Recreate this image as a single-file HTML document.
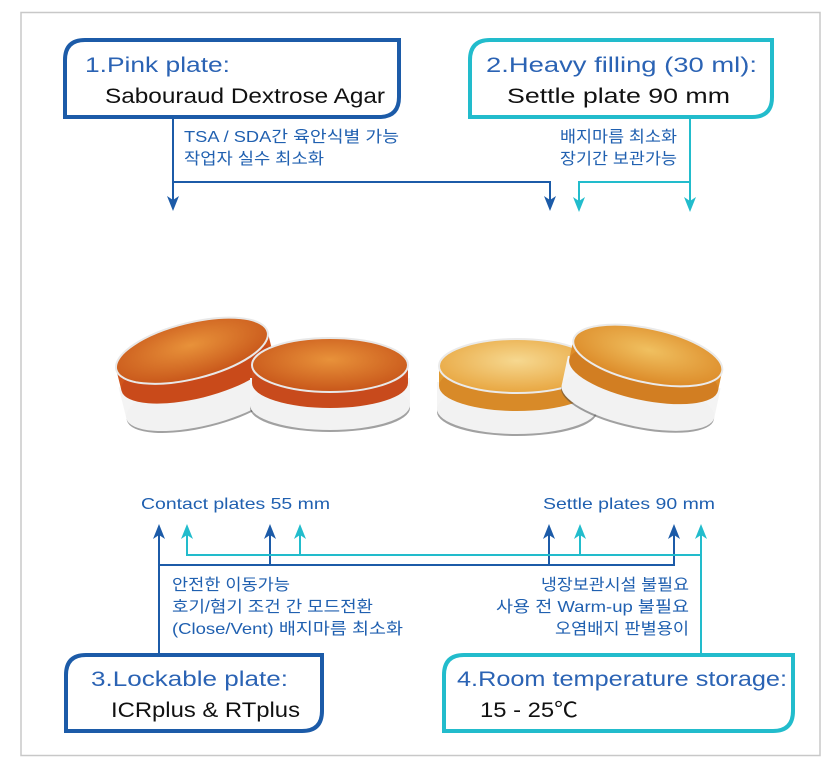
<!DOCTYPE html>
<html><head><meta charset="utf-8"><style>
html,body{margin:0;padding:0;background:#fff;}
svg{display:block;}
text{font-family:"Liberation Sans","Noto Sans CJK KR",sans-serif;}
</style></head><body>
<svg width="828" height="772" viewBox="0 0 828 772" xmlns="http://www.w3.org/2000/svg">
<defs>
<radialGradient id="g1" cx="0.5" cy="0.4" r="0.6"><stop offset="0" stop-color="#e8923a"/><stop offset="1" stop-color="#c8561a"/></radialGradient>
<radialGradient id="g2" cx="0.5" cy="0.4" r="0.6"><stop offset="0" stop-color="#f6d890"/><stop offset="1" stop-color="#e8a640"/></radialGradient>
<radialGradient id="g3" cx="0.5" cy="0.4" r="0.6"><stop offset="0" stop-color="#f0c060"/><stop offset="1" stop-color="#dc8a28"/></radialGradient>
</defs>
<rect x="21" y="12.5" width="799" height="743" fill="#fff" stroke="#c8c8c8" stroke-width="1.5"/>

<!-- plates -->
<g transform="rotate(-14 198 375)">
<ellipse cx="198" cy="402" rx="80" ry="26" fill="#444" opacity="0.5"/>
<rect x="118" y="368" width="160" height="32" fill="#f4f4f4"/>
<ellipse cx="198" cy="400" rx="80" ry="26" fill="#f2f2f2"/>
<rect x="120" y="350" width="156" height="22" fill="#d0541c"/>
<ellipse cx="198" cy="372" rx="78" ry="26" fill="#c94a1a"/>
<ellipse cx="198" cy="350" rx="78" ry="28" fill="url(#g1)" stroke="#e8e8e8" stroke-width="2"/>
</g>
<g>
<ellipse cx="330" cy="408" rx="80" ry="24" fill="#444" opacity="0.5"/>
<rect x="250" y="378" width="160" height="28" fill="#f4f4f4"/>
<ellipse cx="330" cy="405" rx="80" ry="25" fill="#f2f2f2"/>
<rect x="252" y="365" width="156" height="18" fill="#cf5020"/>
<ellipse cx="330" cy="383" rx="78" ry="25" fill="#c84a1c"/>
<ellipse cx="330" cy="365" rx="78" ry="27" fill="url(#g1)" stroke="#e8e8e8" stroke-width="2"/>
</g>
<g>
<ellipse cx="517" cy="412" rx="80" ry="24" fill="#444" opacity="0.5"/>
<rect x="437" y="382" width="160" height="28" fill="#f4f4f4"/>
<ellipse cx="517" cy="409" rx="80" ry="25" fill="#f2f2f2"/>
<rect x="439" y="368" width="156" height="18" fill="#e09a30"/>
<ellipse cx="517" cy="386" rx="78" ry="25" fill="#d88a28"/>
<ellipse cx="517" cy="366" rx="78" ry="27" fill="url(#g2)" stroke="#eaeaea" stroke-width="2"/>
</g>
<g transform="rotate(12 643 378)">
<ellipse cx="643" cy="404" rx="78" ry="25" fill="#444" opacity="0.5"/>
<rect x="565" y="372" width="156" height="30" fill="#f4f4f4"/>
<ellipse cx="643" cy="402" rx="78" ry="25" fill="#f2f2f2"/>
<rect x="567" y="355" width="152" height="20" fill="#de8c28"/>
<ellipse cx="643" cy="375" rx="76" ry="25" fill="#d27e22"/>
<ellipse cx="643" cy="355" rx="76" ry="27" fill="url(#g3)" stroke="#eaeaea" stroke-width="2"/>
</g>

<!-- boxes -->
<path d="M65 117 V60 Q65 40 85 40 H399 V97 Q399 117 379 117 Z" fill="none" stroke="#1c5ba8" stroke-width="4"/>
<path d="M470 117 V60 Q470 40 490 40 H772 V97 Q772 117 752 117 Z" fill="none" stroke="#22bccc" stroke-width="4"/>
<path d="M66 731 V675 Q66 655 86 655 H322 V711 Q322 731 302 731 Z" fill="none" stroke="#1c5ba8" stroke-width="4"/>
<path d="M444 731 V675 Q444 655 464 655 H793 V711 Q793 731 773 731 Z" fill="none" stroke="#22bccc" stroke-width="4"/>

<g font-size="21">
<text x="85" y="72" fill="#2b63b4" textLength="145" lengthAdjust="spacingAndGlyphs">1.Pink plate:</text>
<text x="105" y="103" fill="#111" textLength="280" lengthAdjust="spacingAndGlyphs">Sabouraud Dextrose Agar</text>
<text x="486" y="72" fill="#2b63b4" textLength="271" lengthAdjust="spacingAndGlyphs">2.Heavy filling (30 ml):</text>
<text x="507" y="103" fill="#111" textLength="223" lengthAdjust="spacingAndGlyphs">Settle plate 90 mm</text>
<text x="91" y="686" fill="#2b63b4" textLength="197" lengthAdjust="spacingAndGlyphs">3.Lockable plate:</text>
<text x="111" y="717" fill="#111" textLength="189" lengthAdjust="spacingAndGlyphs">ICRplus &amp; RTplus</text>
<text x="457" y="686" fill="#2b63b4" textLength="330" lengthAdjust="spacingAndGlyphs">4.Room temperature storage:</text>
<text x="480" y="717" fill="#111" textLength="98" lengthAdjust="spacingAndGlyphs">15 - 25℃</text>
</g>

<g font-size="16" fill="#2060b0">
<text x="184" y="142" textLength="215" lengthAdjust="spacingAndGlyphs">TSA / SDA간 육안식별 가능</text>
<text x="184" y="164" textLength="140" lengthAdjust="spacingAndGlyphs">작업자 실수 최소화</text>
<text x="560" y="142" textLength="117" lengthAdjust="spacingAndGlyphs">배지마름 최소화</text>
<text x="560" y="164" textLength="117" lengthAdjust="spacingAndGlyphs">장기간 보관가능</text>
<text x="141" y="509" textLength="189" lengthAdjust="spacingAndGlyphs">Contact plates 55 mm</text>
<text x="543" y="509" textLength="172" lengthAdjust="spacingAndGlyphs">Settle plates 90 mm</text>
<text x="172" y="590" textLength="118" lengthAdjust="spacingAndGlyphs">안전한 이동가능</text>
<text x="172" y="612" textLength="201" lengthAdjust="spacingAndGlyphs">호기/혐기 조건 간 모드전환</text>
<text x="172" y="634" textLength="231" lengthAdjust="spacingAndGlyphs">(Close/Vent) 배지마름 최소화</text>
<text x="541" y="590" textLength="148" lengthAdjust="spacingAndGlyphs">냉장보관시설 불필요</text>
<text x="496" y="612" textLength="193" lengthAdjust="spacingAndGlyphs">사용 전 Warm-up 불필요</text>
<text x="555" y="634" textLength="134" lengthAdjust="spacingAndGlyphs">오염배지 판별용이</text>
</g>

<g fill="none" stroke-width="2">
<path d="M173 117 V202 M173 182 H550 V202" stroke="#1c5ba8"/>
<path d="M690 117 V204 M690 182 H579 V204" stroke="#22bccc"/>
<path d="M159 653 V533 M159 565 H674 V533 M270 565 V533 M549 565 V533" stroke="#1c5ba8"/>
<path d="M701 653 V533 M701 555 H187 V533 M300 555 V533 M580 555 V533" stroke="#22bccc"/>
</g>
<g fill="#1c5ba8">
<path d="M173 211 L167 196 L173 200 L179 196 Z"/>
<path d="M550 211 L544 196 L550 200 L556 196 Z"/>
<path d="M159 524 L153 539 L159 535 L165 539 Z"/>
<path d="M270 524 L264 539 L270 535 L276 539 Z"/>
<path d="M549 524 L543 539 L549 535 L555 539 Z"/>
<path d="M674 524 L668 539 L674 535 L680 539 Z"/>
</g>
<g fill="#22bccc">
<path d="M579 212 L573 197 L579 201 L585 197 Z"/>
<path d="M690 212 L684 197 L690 201 L696 197 Z"/>
<path d="M187 524 L181 539 L187 535 L193 539 Z"/>
<path d="M300 524 L294 539 L300 535 L306 539 Z"/>
<path d="M580 524 L574 539 L580 535 L586 539 Z"/>
<path d="M701 524 L695 539 L701 535 L707 539 Z"/>
</g>
</svg>
</body></html>
